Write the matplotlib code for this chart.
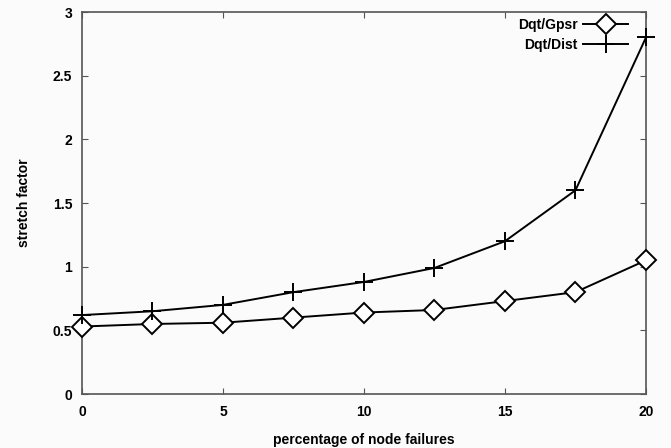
import numpy as np
import matplotlib.pyplot as plt

plt.rcParams['font.family'] = ['Liberation Sans', 'DejaVu Sans']
plt.rcParams['font.weight'] = 'bold'
plt.rcParams['axes.labelweight'] = 'bold'

# Data
failures = [0, 2.5, 5, 7.5, 10, 12.5, 15, 17.5, 20]
dqt_gpsr = [0.53, 0.55, 0.56, 0.60, 0.64, 0.66, 0.73, 0.80, 1.05]
dqt_dist = [0.62, 0.65, 0.70, 0.80, 0.88, 0.99, 1.20, 1.60, 2.80]

fig = plt.figure(figsize=(6.71, 4.48), dpi=100, facecolor='#fbfbfb')
ax = fig.add_axes([0.1222, 0.1205, 0.8405, 0.8527])
ax.set_facecolor('#fbfbfb')

ax.plot(failures, dqt_gpsr, color='black', lw=1.4, marker='D', ms=10,
        mfc='white', mec='black', mew=1.4, label='Dqt/Gpsr', clip_on=False,
        zorder=3)
ax.plot(failures, dqt_dist, color='black', lw=1.4, marker='+', ms=13,
        mew=1.4, label='Dqt/Dist', clip_on=False, zorder=3)

ax.set_xlim(0, 20)
ax.set_ylim(0, 3)
ax.set_xticks([0, 5, 10, 15, 20])
ax.set_yticks([0, 0.5, 1, 1.5, 2, 2.5, 3])
ax.set_yticklabels(['0', '0.5', '1', '1.5', '2', '2.5', '3'])
ax.tick_params(direction='in', top=True, right=True, length=4, width=0.8,
               labelsize=10, color='#555555')
ax.tick_params(axis='x', pad=8)
ax.tick_params(axis='y', pad=7)
for s in ax.spines.values():
    s.set_color('#555555')
    s.set_linewidth(1.2)

ax.set_xlabel('percentage of node failures', fontsize=10, labelpad=10)
ax.set_ylabel('stretch factor', fontsize=10, labelpad=16)

leg = ax.legend(loc='upper right', frameon=False, markerfirst=False,
                fontsize=10, handlelength=3.2, handletextpad=0.4,
                borderaxespad=0, borderpad=0, labelspacing=0.43,
                bbox_to_anchor=(0.968, 0.984))

fig.savefig('out.png', dpi=100, facecolor=fig.get_facecolor())
